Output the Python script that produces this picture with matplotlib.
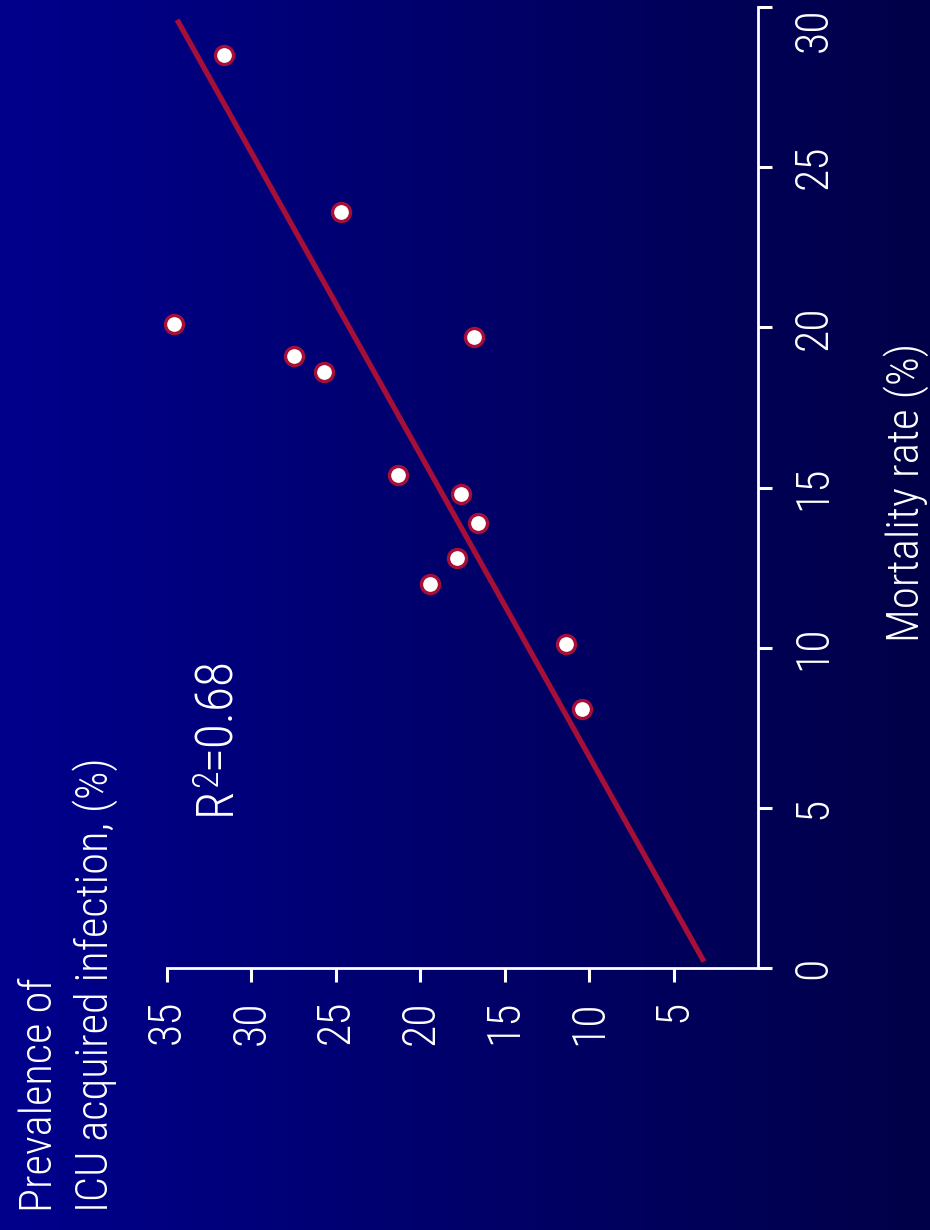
import os
import matplotlib.pyplot as plt
from matplotlib import font_manager as fm
from matplotlib.colors import LinearSegmentedColormap
import numpy as np

# values (chart is drawn turned 90 degrees)
prevalence = [31.6, 24.7, 34.6, 27.5, 25.7, 16.8, 21.3, 17.6, 16.6, 17.8, 19.4, 11.4, 10.4]
mortality = [28.5, 23.6, 20.1, 19.1, 18.6, 19.7, 15.4, 14.8, 13.9, 12.8, 12.0, 10.1, 8.1]
fit_prevalence = [34.4, 3.2]
fit_mortality = [29.6, 0.2]
prev_ticks = [35, 30, 25, 20, 15, 10, 5]
mort_ticks = [0, 5, 10, 15, 20, 25, 30]
r2_parts = ['R', '2', '=0.68']
prev_label = ['Prevalence of', 'ICU acquired infection, (%)']
mort_label = 'Mortality rate (%)'


def pick_font():
    # the slide uses a light narrow sans; take the first condensed face we can find
    prefs = ['robotocondensed-light.', 'liberationsansnarrow-regular', 'arialnarrow', 'arialn.',
             'robotocondensed-regular', 'notosans-condensedlight.', 'notosans-condensed.',
             'opensans-condensed', 'opensans_condensed-regular', 'opensanscondensed',
             'notosans-semicondensed.', 'dejavusanscondensed.']
    files = sorted(set(f.fname for f in fm.fontManager.ttflist))
    for p in prefs:
        for f in files:
            if os.path.basename(f).lower().startswith(p):
                return f
    for f in files:
        b = os.path.basename(f).lower()
        if ('condensed' in b or 'narrow' in b) and not any(k in b for k in ['bold', 'italic', 'black', 'thin', 'medium', 'semi', 'extra']):
            return f
    return fm.findfont('Liberation Sans')


font_file = pick_font()


def fp(size):
    return fm.FontProperties(fname=font_file, size=size)


W, H = 930, 1230
red = '#a80f38'
fig = plt.figure(figsize=(W / 100, H / 100), dpi=100)

# background gradient
bg = fig.add_axes([0, 0, 1, 1], zorder=0)
cmap = LinearSegmentedColormap.from_list('bg', ['#00008c', '#000048'])
bg.imshow(np.linspace(0, 1, 256)[None, :], aspect='auto', cmap=cmap, extent=[0, 1, 0, 1])
bg.axis('off')

ax = fig.add_axes([167 / W, 1 - 968 / H, (758 - 167) / W, (968 - 7) / H], zorder=1)
ax.patch.set_visible(False)
ax.plot(fit_prevalence, fit_mortality, color=red, lw=3.8, solid_capstyle='butt', clip_on=False)
ax.plot(prevalence, mortality, 'o', ms=13, mfc='white', mec=red, mew=2.4, clip_on=False)
ax.set_xlim(35, 0)
ax.set_ylim(0, 30)
ax.set_xticks(prev_ticks)
ax.set_yticks(mort_ticks)
ax.yaxis.tick_right()
for s in ['top', 'left']:
    ax.spines[s].set_visible(False)
for s in ['bottom', 'right']:
    ax.spines[s].set_color('white')
    ax.spines[s].set_linewidth(2)
ax.tick_params(colors='white', width=2.2, length=10)
ax.tick_params(axis='x', labelrotation=90, pad=13)
ax.tick_params(axis='y', labelrotation=90, pad=14)
for lab in ax.get_xticklabels():
    lab.set_fontproperties(fp(33))
for lab in ax.get_yticklabels():
    lab.set_fontproperties(fp(33))
    lab.set_va('center')
ax.get_yticklabels()[-1].set_va('top')


def px(x, y):
    return x / W, 1 - y / H


def vtext(x, y, s, size, ha='left'):
    return fig.text(*px(x, y), s, color='white', fontproperties=fp(size), rotation=90,
                    rotation_mode='anchor', ha=ha, va='baseline')


vtext(52, 1212, prev_label[0], 32)
vtext(108, 1212, prev_label[1], 32)
vtext(919, 492, mort_label, 32.5, ha='center')

# R^2 put together from three pieces, the 2 small and raised
renderer = fig.canvas.get_renderer()
t = vtext(230, 815, r2_parts[0], 37)
end = H - t.get_window_extent(renderer).y1
t = vtext(217, end, r2_parts[1], 26)
end = H - t.get_window_extent(renderer).y1
vtext(230, end, r2_parts[2], 37)

fig.savefig('out.png', dpi=100)
